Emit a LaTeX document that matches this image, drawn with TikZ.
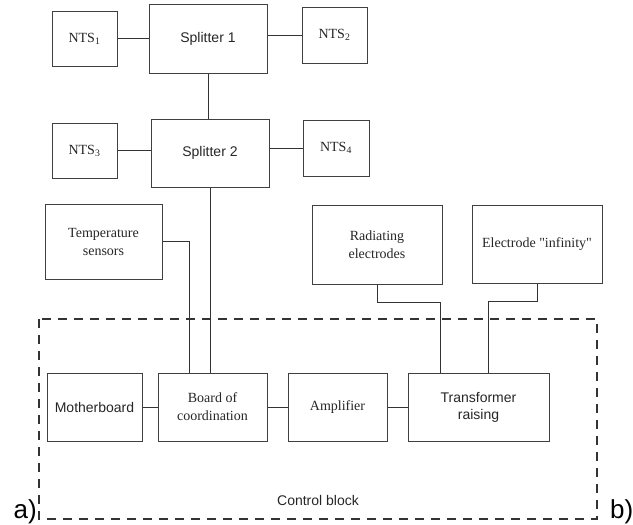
\documentclass[tikz,border=0pt]{standalone}
\usepackage{fontspec}
\setmainfont{Liberation Serif}[Ligatures=TeXOff]
\setsansfont{Liberation Sans}
\usetikzlibrary{positioning}

\begin{document}
\begin{tikzpicture}[x=1pt,y=-1pt,
		blk/.style={draw=black!75,line width=1pt,rectangle,inner sep=0pt,align=center,
			font=\fontsize{14}{18}\selectfont,text=black!85},
		sblk/.style={blk,font=\sffamily\fontsize{14}{17}\selectfont},
		wire/.style={draw=black!80,line width=1pt},
		ctrl/.style={draw=black!80,line width=2pt,dash pattern=on 9pt off 7pt}]
	\useasboundingbox (0,0) rectangle (633,525);

	% upper part
	\node[sblk,minimum width=118pt,minimum height=69pt] (spl1) at (208,38.5) {Splitter 1};
	\node[blk,minimum width=65pt,minimum height=55pt] (nts1) at (84.5,38.5) {NTS\textsubscript{1}};
	\node[blk,minimum width=65pt,minimum height=56pt] (nts2) at (334.5,35) {NTS\textsubscript{2}};
	\node[sblk,minimum width=118pt,minimum height=68pt] (spl2) at (210,153) {Splitter 2};
	\node[blk,minimum width=65pt,minimum height=55pt] (nts3) at (84.5,150.5) {NTS\textsubscript{3}};
	\node[blk,minimum width=66pt,minimum height=56pt] (nts4) at (336,148) {NTS\textsubscript{4}};

	\node[blk,minimum width=117pt,minimum height=75pt] (temp) at (103.5,241.5) {Temperature\\sensors};
	\node[blk,minimum width=130pt,minimum height=79pt] (rad) at (377,244.5) {Radiating\\electrodes};
	\node[blk,minimum width=130pt,minimum height=78pt] (inf) at (537,244) {Electrode "infinity"};

	% control block
	\draw[ctrl] (39,319) rectangle (597,519);
	\node[sblk,minimum width=95pt,minimum height=68pt] (mother) at (94.5,407) {Motherboard};
	\node[blk,minimum width=109pt,minimum height=68pt] (board) at (212.5,407) {Board of\\coordination};
	\node[blk,minimum width=99pt,minimum height=68pt] (amp) at (337.5,407) {Amplifier};
	\node[sblk,minimum width=141pt,minimum height=68pt] (trans) at (478.5,407) {Transformer\\raising};
	\node[font=\sffamily\fontsize{14}{16}\selectfont,text=black!85] (ctrltxt) at (318,500) {Control block};

	\node[font=\sffamily\fontsize{26}{28}\selectfont,anchor=base east,inner sep=0pt] (la) at (37,518) {a)};
	\node[font=\sffamily\fontsize{26}{28}\selectfont,anchor=base west,inner sep=0pt] (lb) at (610,518) {b)};

	% connections
	\draw[wire] (nts1.east) -- (nts1.east -| spl1.west);
	\draw[wire] (spl1.east |- nts2.west) -- (nts2.west);
	\draw[wire] (spl1.south) -- (spl1.south |- spl2.north);
	\draw[wire] (nts3.east) -- (nts3.east -| spl2.west);
	\draw[wire] (spl2.east |- nts4.west) -- (nts4.west);

	\coordinate (bt) at ([xshift=-23.5pt]board.north);
	\coordinate (tr) at ([xshift=-38.5pt]trans.north);
	\coordinate (ti) at ([xshift=9.5pt]trans.north);
	\draw[wire] (spl2.south) -- (spl2.south |- board.north);
	\draw[wire] (temp.east) -| (bt);
	\draw[wire] (rad.south) -- ++(0,18) -| (tr);
	\draw[wire] (inf.south) -- ++(0,18) -| (ti);

	\draw[wire] (mother) -- (board);
	\draw[wire] (board) -- (amp);
	\draw[wire] (amp) -- (trans);
\end{tikzpicture}
\end{document}
